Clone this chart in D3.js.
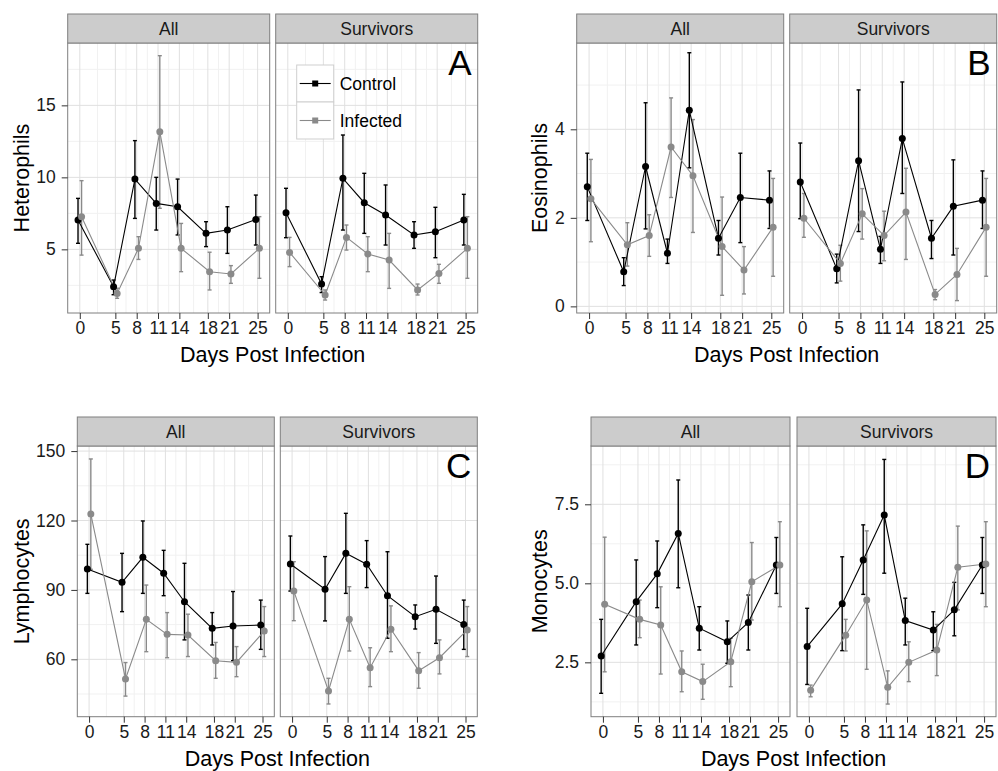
<!DOCTYPE html>
<html>
<head>
<meta charset="utf-8">
<script src="https://cdn.jsdelivr.net/npm/d3@7"></script>
<style>
	body { margin: 0; background: #fff; }
	text { font-family: "Liberation Sans", Arial, sans-serif; }
</style>
</head>
<body>
<div id="chart"></div>
<script>
{ // start block scope

	// x values and group names
	const days = [0, 5, 8, 11, 14, 18, 21, 25];
	const groups = ["Control", "Infected"];
	const facets = ["All", "Survivors"];

	// each entry: [mean, lower, upper]
	const hetAllControl = [[7.04, 5.42, 8.54], [2.41, 1.85, 2.87], [9.88, 7.15, 12.55], [8.19, 6.34, 10.0], [7.96, 6.0, 9.88], [6.11, 5.19, 6.92], [6.34, 4.72, 7.96], [7.08, 5.3, 8.77]];
	const hetAllInfected = [[7.27, 4.6, 9.77], [1.94, 1.6, 2.3], [5.07, 4.3, 5.88], [13.17, 7.85, 18.45], [5.07, 3.45, 6.8], [3.45, 2.18, 4.8], [3.29, 2.64, 3.87], [5.07, 2.99, 7.27]];
	const hetSurvControl = [[7.55, 5.81, 9.24], [2.59, 2.0, 3.1], [9.93, 6.34, 12.94], [8.24, 6.11, 10.28], [7.38, 5.3, 9.47], [6.0, 5.07, 6.92], [6.23, 4.42, 7.92], [7.04, 5.3, 8.82]];
	const hetSurvInfected = [[4.79, 3.8, 5.83], [1.83, 1.48, 2.18], [5.83, 4.95, 6.69], [4.68, 3.45, 5.88], [4.26, 2.29, 6.11], [2.18, 1.83, 2.59], [3.33, 2.64, 3.96], [5.07, 2.99, 7.27]];

	const eosAllControl = [[2.70, 1.94, 3.46], [0.78, 0.47, 1.10], [3.16, 1.75, 4.6], [1.20, 0.97, 1.52], [4.43, 3.13, 5.73], [1.54, 1.16, 1.94], [2.46, 1.44, 3.46], [2.40, 1.76, 3.06]];
	const eosAllInfected = [[2.43, 1.46, 3.32], [1.39, 0.91, 1.89], [1.60, 1.13, 2.07], [3.60, 2.46, 4.71], [2.95, 1.67, 4.22], [1.35, 0.25, 2.47], [0.82, 0.28, 1.35], [1.79, 0.68, 2.89]];
	const eosSurvControl = [[2.81, 1.98, 3.69], [0.85, 0.53, 1.18], [3.29, 1.69, 4.89], [1.29, 0.97, 1.58], [3.79, 2.55, 5.07], [1.54, 1.08, 1.94], [2.26, 1.16, 3.31], [2.40, 1.76, 3.06]];
	const eosSurvInfected = [[1.99, 1.56, 2.55], [0.97, 0.57, 1.38], [2.09, 1.52, 2.66], [1.60, 1.03, 2.15], [2.13, 1.06, 3.12], [0.27, 0.15, 0.38], [0.72, 0.13, 1.31], [1.79, 0.68, 2.89]];

	const lymAllControl = [[99.0, 88.5, 109.7], [93.3, 80.6, 105.8], [104.1, 88.5, 119.8], [97.2, 87.5, 107.1], [84.9, 68.4, 101.5], [73.4, 66.2, 80.2], [74.4, 59.4, 89.3], [74.8, 64.3, 85.6]];
	const lymAllInfected = [[122.8, 98.9, 146.6], [51.5, 44.1, 58.6], [77.3, 63.3, 92.1], [70.8, 60.7, 80.2], [70.5, 61.2, 79.5], [59.4, 51.8, 67.3], [58.7, 52.5, 65.5], [72.2, 61.2, 82.8]];
	const lymSurvControl = [[101.2, 89.5, 113.3], [90.3, 76.6, 104.4], [105.8, 88.5, 123.1], [101.1, 91.0, 111.3], [87.5, 69.1, 106.5], [78.4, 73.1, 83.5], [81.6, 66.9, 96.0], [75.1, 64.3, 85.6]];
	const lymSurvInfected = [[89.5, 76.7, 102.2], [46.3, 40.7, 51.8], [77.3, 63.6, 91.4], [56.4, 48.2, 65.0], [73.0, 63.3, 83.1], [55.1, 47.5, 62.9], [60.7, 53.7, 68.4], [72.7, 61.2, 82.8]];

	const monAllControl = [[2.70, 1.52, 3.86], [4.42, 3.05, 5.74], [5.30, 4.23, 6.34], [6.58, 4.86, 8.27], [3.58, 2.89, 4.26], [3.15, 2.47, 3.81], [3.76, 2.89, 4.63], [5.58, 4.68, 6.45]];
	const monAllInfected = [[4.34, 2.2, 6.46], [3.86, 3.28, 4.47], [3.68, 2.13, 4.89], [2.20, 1.57, 2.86], [1.89, 1.33, 2.44], [2.52, 1.73, 3.26], [5.05, 3.84, 6.29], [5.58, 4.26, 6.95]];
	const monSurvControl = [[3.0, 1.80, 4.21], [4.35, 2.87, 5.84], [5.74, 4.65, 6.85], [7.16, 5.32, 8.92], [3.82, 3.05, 4.53], [3.52, 2.87, 4.10], [4.16, 3.34, 5.03], [5.58, 4.68, 6.45]];
	const monSurvInfected = [[1.62, 1.41, 1.78], [3.36, 2.86, 3.86], [4.47, 2.28, 6.66], [1.71, 1.18, 2.23], [2.5, 1.89, 3.15], [2.89, 2.08, 3.70], [5.51, 4.16, 6.81], [5.61, 4.26, 6.95]];

	// y tick labels per panel
	const hetTicks = [5, 10, 15];
	const eosTicks = [0, 2, 4];
	const lymTicks = [60, 90, 120, 150];
	const monTicks = [2.5, 5.0, 7.5];

	const width = 998,
		height = 771;

	const colors = { Control: "#000000", Infected: "#8a8a8a" };
	const dodge = { Control: -0.25, Infected: 0.25 };

	const svg = d3
		.select("#chart")
		.append("svg")
		.attr("width", width)
		.attr("height", height)
		.attr("viewBox", [0, 0, width, height]);

	const panels = [
		{ letter: "A", title: "Heterophils", ticks: hetTicks, fmt: d3.format("d"), domain: [0.58, 19.33],
			data: [[hetAllControl, hetAllInfected], [hetSurvControl, hetSurvInfected]],
			left: 67.7, w: 202, gap: 6, top: 14, stripH: 29, bottom: 313, titleX: 29, legend: true },
		{ letter: "B", title: "Eosinophils", ticks: eosTicks, fmt: d3.format("d"), domain: [-0.15, 5.95],
			data: [[eosAllControl, eosAllInfected], [eosSurvControl, eosSurvInfected]],
			left: 576.7, w: 207, gap: 6, top: 14, stripH: 29, bottom: 313, titleX: 547 },
		{ letter: "C", title: "Lymphocytes", ticks: lymTicks, fmt: d3.format("d"), domain: [35.2, 152.2],
			data: [[lymAllControl, lymAllInfected], [lymSurvControl, lymSurvInfected]],
			left: 77.3, w: 197, gap: 6, top: 417, stripH: 29, bottom: 716.7, titleX: 29 },
		{ letter: "D", title: "Monocytes", ticks: monTicks, fmt: d3.format(".1f"), domain: [0.78, 9.345],
			data: [[monAllControl, monAllInfected], [monSurvControl, monSurvInfected]],
			left: 591, w: 199, gap: 7, top: 417, stripH: 29, bottom: 716.7, titleX: 547 }
	];

	panels.forEach(drawPanel);

	function midpoints(arr) {
		return d3.pairs(arr).map(([a, b]) => (a + b) / 2);
	}

	function drawPanel(p) {
		const g = svg.append("g");
		const plotTop = p.top + p.stripH;

		const y = d3.scaleLinear().domain(p.domain).range([p.bottom, plotTop]);
		const step = p.ticks[1] - p.ticks[0];
		const yMinor = midpoints([p.ticks[0] - step].concat(p.ticks, [p.ticks[p.ticks.length - 1] + step]))
			.filter((v) => v > p.domain[0] && v < p.domain[1]);

		facets.forEach((facet, fi) => {
			const x0 = p.left + fi * (p.w + p.gap);
			const x = d3.scaleLinear().domain([-1.7, 26.7]).range([x0, x0 + p.w]);
			const f = g.append("g");

			// background + grid
			f.append("rect")
				.attr("x", x0).attr("y", plotTop)
				.attr("width", p.w).attr("height", p.bottom - plotTop)
				.attr("fill", "#fff");

			f.selectAll(".xminor")
				.data(midpoints(days))
				.join("line")
				.attr("x1", (d) => x(d)).attr("x2", (d) => x(d))
				.attr("y1", plotTop).attr("y2", p.bottom)
				.attr("stroke", "#f1f1f1");
			f.selectAll(".yminor")
				.data(yMinor)
				.join("line")
				.attr("x1", x0).attr("x2", x0 + p.w)
				.attr("y1", (d) => y(d)).attr("y2", (d) => y(d))
				.attr("stroke", "#f1f1f1");
			f.selectAll(".xmajor")
				.data(days)
				.join("line")
				.attr("x1", (d) => x(d)).attr("x2", (d) => x(d))
				.attr("y1", plotTop).attr("y2", p.bottom)
				.attr("stroke", "#e0e0e0");
			f.selectAll(".ymajor")
				.data(p.ticks)
				.join("line")
				.attr("x1", x0).attr("x2", x0 + p.w)
				.attr("y1", (d) => y(d)).attr("y2", (d) => y(d))
				.attr("stroke", "#e0e0e0");

			// series: error bars, then lines, then points
			const series = groups.map((grp, gi) =>
				p.data[fi][gi].map((v, i) => ({ grp, day: days[i], mean: v[0], lo: v[1], hi: v[2] }))
			);

			series.forEach((s) => {
				const eb = f.append("g")
					.attr("stroke", colors[s[0].grp])
					.attr("stroke-width", 1.4);
				s.forEach((d) => {
					const cx = x(d.day + dodge[d.grp]);
					eb.append("line").attr("x1", cx).attr("x2", cx).attr("y1", y(d.lo)).attr("y2", y(d.hi));
					eb.append("line").attr("x1", cx - 2).attr("x2", cx + 2).attr("y1", y(d.lo)).attr("y2", y(d.lo));
					eb.append("line").attr("x1", cx - 2).attr("x2", cx + 2).attr("y1", y(d.hi)).attr("y2", y(d.hi));
				});
			});

			const line = d3.line()
				.x((d) => x(d.day + dodge[d.grp]))
				.y((d) => y(d.mean));
			series.forEach((s) => {
				f.append("path")
					.datum(s)
					.attr("d", line)
					.attr("fill", "none")
					.attr("stroke", colors[s[0].grp])
					.attr("stroke-width", 1.1);
			});
			series.forEach((s) => {
				f.selectAll(null)
					.data(s)
					.join("circle")
					.attr("cx", (d) => x(d.day + dodge[d.grp]))
					.attr("cy", (d) => y(d.mean))
					.attr("r", 3.5)
					.attr("fill", colors[s[0].grp]);
			});

			// panel border
			f.append("rect")
				.attr("x", x0).attr("y", plotTop)
				.attr("width", p.w).attr("height", p.bottom - plotTop)
				.attr("fill", "none")
				.attr("stroke", "#7f7f7f");

			// strip
			f.append("rect")
				.attr("x", x0).attr("y", p.top)
				.attr("width", p.w).attr("height", p.stripH)
				.attr("fill", "#cccccc")
				.attr("stroke", "#7f7f7f");
			f.append("text")
				.attr("x", x0 + p.w / 2)
				.attr("y", p.top + p.stripH / 2 + 6)
				.attr("text-anchor", "middle")
				.style("font-size", "17.5px")
				.attr("fill", "#1a1a1a")
				.text(facet);

			// x axis
			const xAxis = d3.axisBottom(x)
				.tickValues(days)
				.tickSize(6)
				.tickPadding(3);
			const xa = f.append("g")
				.attr("transform", `translate(0,${p.bottom})`)
				.call(xAxis);
			xa.select(".domain").remove();
			xa.selectAll("line").attr("stroke", "#333");
			xa.selectAll("text")
				.style("font-size", "17.5px")
				.attr("fill", "#1a1a1a");

			if (fi === 0) {
				const yAxis = d3.axisLeft(y)
					.tickValues(p.ticks)
					.tickFormat(p.fmt)
					.tickSize(6)
					.tickPadding(6);
				const ya = f.append("g")
					.attr("transform", `translate(${x0},0)`)
					.call(yAxis);
				ya.select(".domain").remove();
				ya.selectAll("line").attr("stroke", "#333");
				ya.selectAll("text")
					.style("font-size", "17.5px")
					.attr("fill", "#1a1a1a");
			} else {
				// panel letter
				f.append("text")
					.attr("x", x0 + p.w - 6)
					.attr("y", plotTop + 32)
					.attr("text-anchor", "end")
					.style("font-size", "35px")
					.text(p.letter);
			}

			if (p.legend && fi === 1) drawLegend(f, x0 + 21, plotTop + 22);
		});

		// axis titles
		const fullW = 2 * p.w + p.gap;
		g.append("text")
			.attr("x", p.left + fullW / 2)
			.attr("y", p.bottom + 49)
			.attr("text-anchor", "middle")
			.style("font-size", "21.5px")
			.text("Days Post Infection");
		g.append("text")
			.attr("transform", `translate(${p.titleX},${(plotTop + p.bottom) / 2}) rotate(-90)`)
			.attr("text-anchor", "middle")
			.style("font-size", "21.5px")
			.text(p.title);
	}

	function drawLegend(f, lx, ly) {
		const key = 37;
		const lg = f.append("g").attr("transform", `translate(${lx},${ly})`);
		groups.forEach((grp, i) => {
			const row = lg.append("g").attr("transform", `translate(0,${i * key})`);
			row.append("rect")
				.attr("width", key).attr("height", key)
				.attr("fill", "#fff")
				.attr("stroke", "#cfcfcf");
			row.append("line")
				.attr("x1", 3).attr("x2", key - 3)
				.attr("y1", key / 2).attr("y2", key / 2)
				.attr("stroke", colors[grp])
				.attr("stroke-width", 1.1);
			row.append("rect")
				.attr("x", key / 2 - 3).attr("y", key / 2 - 3)
				.attr("width", 6).attr("height", 6)
				.attr("fill", colors[grp]);
			row.append("text")
				.attr("x", key + 6)
				.attr("y", key / 2 + 6)
				.style("font-size", "17.5px")
				.text(grp);
		});
	}

} // end block scope
</script>
</body>
</html>
